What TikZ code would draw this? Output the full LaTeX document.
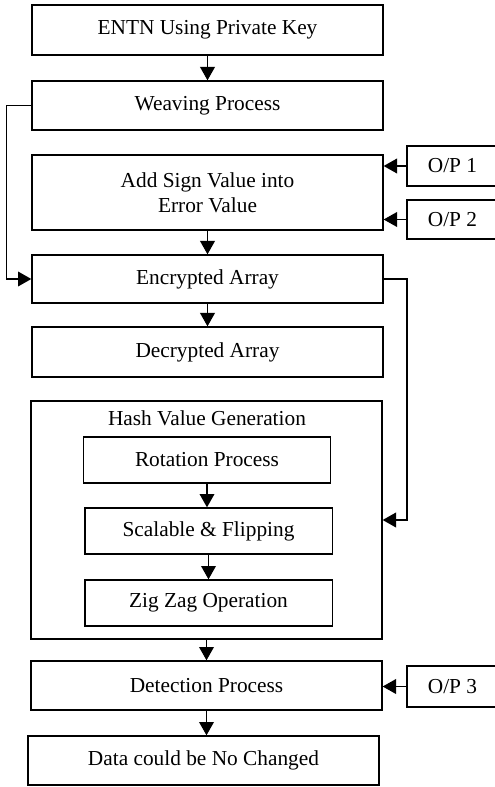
\documentclass[tikz,border=0pt]{standalone}
\usepackage{fontspec}
\setmainfont{Liberation Serif}
\usetikzlibrary{arrows.meta}

\begin{document}
\begin{tikzpicture}[x=0.75pt,y=0.75pt,yscale=-1,xscale=1,
  font=\fontsize{16}{19}\selectfont,
  box/.style={draw,line width=1pt,inner sep=0.75pt,align=center,minimum width=263.25pt},
  inbox/.style={draw,line width=1pt,inner sep=0.75pt,align=center,minimum width=185.5pt,minimum height=34.5pt},
  opbox/.style={draw,line width=1pt,inner sep=0.75pt,minimum width=68.25pt},
  flow/.style={line width=1.1pt,-{Triangle[width=11pt,length=10pt]}}]
\useasboundingbox (0,0) rectangle (494,787);

%Main column
\node [box,minimum height=37.5pt] (entn) at (207.5,30) {ENTN Using Private Key};
\node [box,minimum height=36.75pt] (weave) at (207.5,105.5) {Weaving Process};
\node [box,minimum height=56.25pt] (addsign) at (207.5,192.5) {Add Sign Value into\\Error Value};
\node [box,minimum height=36pt] (enc) at (207.5,279) {Encrypted Array};
\node [box,minimum height=37.5pt] (dec) at (207.5,352) {Decrypted Array};

%Hash value block
\node [box,minimum height=178.5pt] (hash) at (206.5,520) {};
\node [inner sep=0.75pt] (hashlbl) at (207,418) {Hash Value Generation};
\node [inbox] (rot) at (207,460) {Rotation Process};
\node [inbox] (scal) at (208.5,531) {Scalable \& Flipping};
\node [inbox] (zig) at (208.5,603) {Zig Zag Operation};

\node [box,minimum height=36.75pt] (detect) at (206.5,685.5) {Detection Process};
\node [box,minimum height=36.75pt] (data) at (203.5,760.5) {Data could be No Changed};

%Outputs
\node [opbox,minimum height=30pt] (op1) at (452.5,166) {O/P 1};
\node [opbox,minimum height=29.25pt] (op2) at (452.5,219.5) {O/P 2};
\node [opbox,minimum height=30.75pt] (op3) at (452.5,686.5) {O/P 3};

%Arrows
\draw [flow] (entn.south) -- (weave.north);
\draw [flow] (addsign.south) -- (enc.north);
\draw [flow] (enc.south) -- (dec.north);
\draw [flow] (hash.south) -- (detect.north);
\draw [flow] (rot.south) -- (rot.south |- scal.north);
\draw [flow] (scal.south) -- (zig.north);
\draw [flow] (detect.south) -- (detect.south |- data.north);
\draw [flow] (weave.west) -- ++(-25,0) |- (enc.west);
\draw [flow] (enc.east) -- ++(23.5,0) |- (hash.east);
\draw [flow] (op1.west) -- (op1.west -| addsign.east);
\draw [flow] (op2.west) -- (op2.west -| addsign.east);
\draw [flow] (op3.west) -- (op3.west -| detect.east);

\end{tikzpicture}
\end{document}
